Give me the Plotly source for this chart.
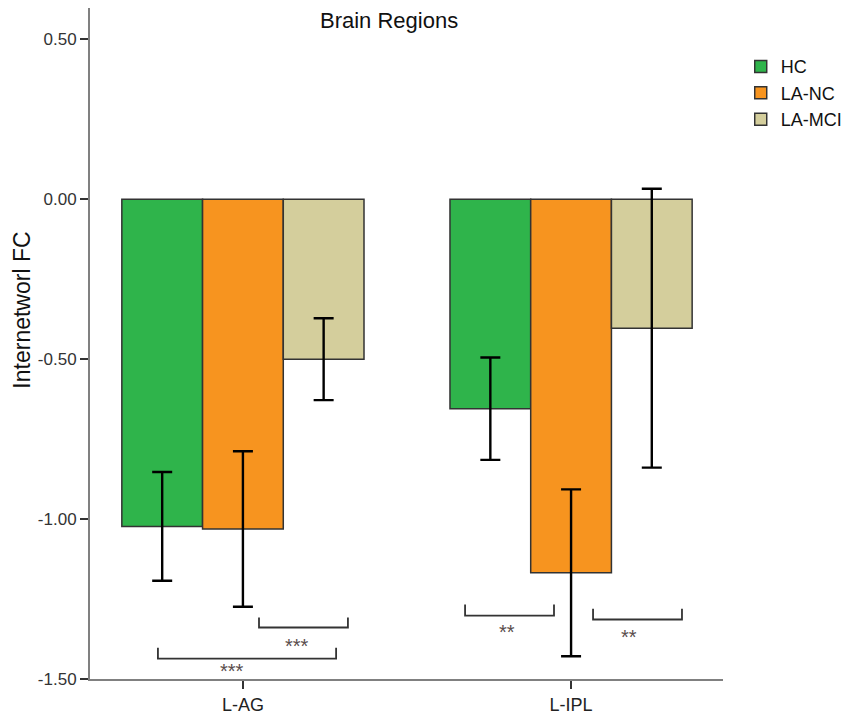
import plotly.graph_objects as go

regions = ["L-AG", "L-IPL"]
groups = ["HC", "LA-NC", "LA-MCI"]
colors = ["#2fb44b", "#f7941f", "#d4ce9c"]

hc = [-1.023, -0.655]
la_nc = [-1.031, -1.168]
la_mci = [-0.500, -0.403]
hc_err = [0.170, 0.160]
la_nc_err = [0.243, 0.261]
la_mci_err = [0.128, 0.436]

y_ticks = [-1.5, -1.0, -0.5, 0.0, 0.5]
y_tick_labels = ["-1.50", "-1.00", "-0.50", "0.00", "0.50"]

# significance brackets: x0, x1 (category units), y top of ticks, y of line, label, label x, label y
brackets = [
    (0.049, 0.320, -1.308, -1.339, "***", 0.165, -1.383),
    (-0.259, 0.284, -1.402, -1.436, "***", -0.034, -1.464),
    (0.677, 0.948, -1.267, -1.302, "**", 0.805, -1.339),
    (1.067, 1.338, -1.280, -1.314, "**", 1.177, -1.355),
]

fig = go.Figure()
for name, vals, errs, col in zip(groups, [hc, la_nc, la_mci], [hc_err, la_nc_err, la_mci_err], colors):
    fig.add_trace(go.Bar(
        x=regions, y=vals, name=name,
        marker=dict(color=col, line=dict(color="#333333", width=1.5)),
        error_y=dict(type="data", array=errs, visible=True, color="black", thickness=2.4, width=10),
    ))

for x0, x1, yt, yl, lab, tx, ty in brackets:
    fig.add_shape(type="path", xref="x", yref="y",
                  path=f"M {x0} {yt} L {x0} {yl} L {x1} {yl} L {x1} {yt}",
                  line=dict(color="#333333", width=1.8))
    # asterisks sit high in the line box, so nudge the label down a bit
    fig.add_annotation(x=tx, y=ty, xref="x", yref="y", text=lab, showarrow=False,
                       yanchor="middle", yshift=-4,
                       font=dict(size=20, color="#5a4d4d"))

fig.add_annotation(x=0.472, y=0.982, xref="paper", yref="paper", text="Brain Regions",
                   showarrow=False, xanchor="center", yanchor="middle",
                   font=dict(size=22, color="#111111"))
fig.add_annotation(x=-0.108, y=1 - (310 - 8) / 671, xref="paper", yref="paper",
                   text="Internetworl FC", showarrow=False, textangle=-90,
                   xanchor="center", yanchor="middle",
                   font=dict(size=23, color="#111111"))

fig.update_layout(
    width=842, height=706,
    margin=dict(l=82, r=127, t=0, b=35),
    paper_bgcolor="white", plot_bgcolor="white",
    font=dict(family="Liberation Sans, Arial", color="#222222"),
    barmode="group", bargap=0.262, bargroupgap=0,
    legend=dict(x=1.028, y=0.94, xanchor="left", yanchor="top",
                font=dict(size=18, color="#111111"), tracegroupgap=0,
                itemwidth=30),
    xaxis=dict(range=[-0.466, 1.463], showline=True, linecolor="#808080", linewidth=2,
               ticks="outside", ticklen=8, tickwidth=2, tickcolor="#333333",
               tickfont=dict(size=18, color="#222222"), showgrid=False),
    yaxis=dict(range=[-1.5, 0.598], tickvals=y_ticks, ticktext=y_tick_labels,
               showline=True, linecolor="#808080", linewidth=2,
               ticks="outside", ticklen=8, tickwidth=2, tickcolor="#333333",
               tickfont=dict(size=17, color="#333333"), showgrid=False, zeroline=False),
)

fig.write_html("out.html")
